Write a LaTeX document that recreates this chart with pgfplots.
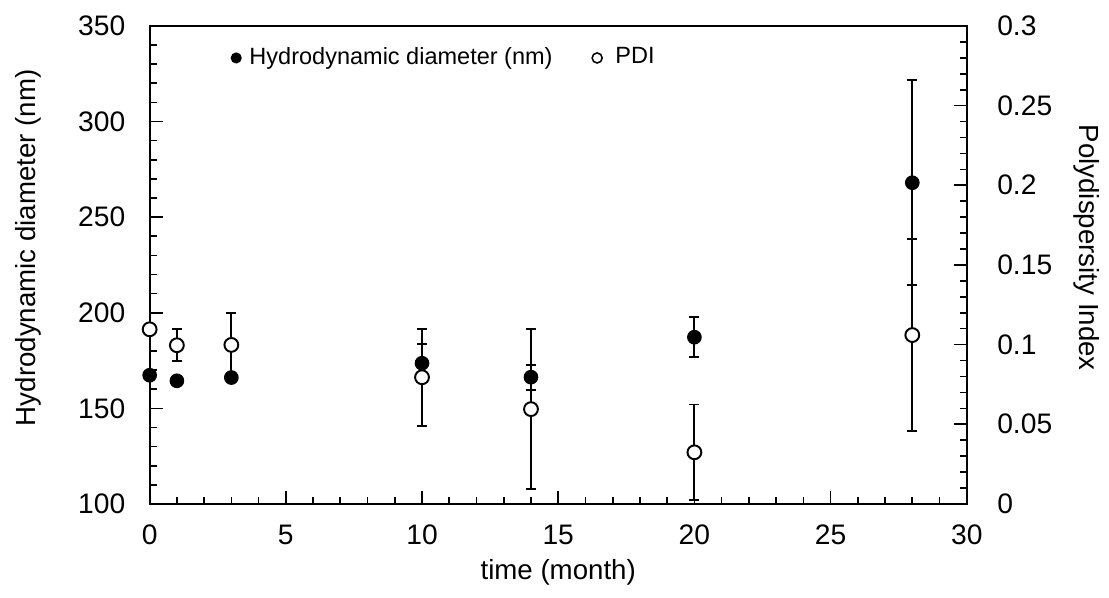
\documentclass[border=0pt]{standalone}
\usepackage{pgfplots}
\pgfplotsset{compat=1.18}
\usepackage{pgfplotstable}
\usepackage{fontspec}
\setmainfont{Liberation Sans}

\pgfplotstableread{
t d e
0 167.3 0
1 164.4 0
3 166.1 0
10 173.6 10
14 166.3 6.5
20 187.2 10.4
28 268.0 53.7
}\diam

\pgfplotstableread{
t p e
0 0.1096 0
1 0.0996 0.0100
3 0.0998 0.0203
10 0.0795 0.0304
14 0.0595 0.0500
20 0.0324 0.0300
28 0.1060 0.0605
}\pdi

\pgfplotsset{
  dotlegendA/.style={legend image code/.code={\fill[black] (0pt,0pt) circle (1.8pt); \path[draw=none, fill=none] (2.8pt,0pt) circle (0pt);}},
  dotlegendB/.style={legend image code/.code={\fill[black] (0pt,0pt) circle (1.9pt); \fill[white] (0pt,0pt) circle (1.25pt); \path[draw=none, fill=none] (4.6pt,0pt) circle (0pt);}},
  /pgf/number format/assume math mode=true,
  every axis/.append style={
    scale only axis, width=295.4pt, height=172.8pt,
    xmin=0, xmax=30,
    tick align=inside,
    major tick length=4.8pt, minor tick length=2.6pt,
    axis line style={line width=0.75pt, black},
    every tick/.style={black, line width=0.6pt},
    tick label style={font=\fontsize{10.2}{12}\selectfont},
    label style={font=\fontsize{10}{12}\selectfont},
    clip=false,
  },
}

\begin{document}
\begin{tikzpicture}
\begin{axis}[
  ymin=100, ymax=350,
  xtick distance=5, ytick distance=50,
  minor x tick num=4, minor y tick num=4,
  xtick pos=bottom, ytick pos=left,
  yticklabel style={xshift=-5.3pt},
  xticklabel style={yshift=-4pt},
  xlabel={time (month)},
  xlabel style={at={(axis description cs:0.5,-0.144)}, anchor=center},
  ylabel={Hydrodynamic diameter (nm)},
  ylabel style={at={(axis description cs:-0.1486,0.536)}, anchor=center},
  legend columns=2,
  legend cell align=left,
  legend style={draw=none, fill=none, inner sep=0pt,
    at={(axis description cs:0.0985,0.933)}, anchor=west,
    font=\fontsize{8.5}{10}\selectfont,
    /tikz/every even column/.append style={column sep=12pt}},
]
\addplot[forget plot, only marks, mark=*, mark size=2.45pt, black,
  error bars/.cd, y dir=both, y explicit,
  error mark options={rotate=90, black, mark size=1.8pt, line width=0.7pt},
  error bar style={line width=0.7pt, black}]
  table[x=t, y=d, y error=e] {\diam};
\addlegendimage{dotlegendA}
\addlegendentry{Hydrodynamic diameter (nm)}
\addlegendimage{dotlegendB}
\addlegendentry{PDI}
\end{axis}
\begin{axis}[
  ymin=0, ymax=0.3,
  axis y line*=right, axis x line=none,
  ytick distance=0.05, minor y tick num=4,
  scaled y ticks=false,
  yticklabel style={xshift=7.5pt, /pgf/number format/fixed, /pgf/number format/precision=2},
  ylabel={Polydispersity Index},
  ylabel style={at={(axis description cs:1.147,0.536)}, anchor=center, rotate=180},
]
\addplot[only marks, mark=*, mark size=2.5pt, black,
  mark options={fill=white, draw=black, line width=0.7pt},
  error bars/.cd, y dir=both, y explicit,
  error mark options={rotate=90, black, mark size=1.8pt, line width=0.7pt},
  error bar style={line width=0.7pt, black}]
  table[x=t, y=p, y error=e] {\pdi};
\end{axis}
\path ([shift={(-54.1pt,-33.9pt)}]current axis.south west) rectangle ([shift={(50.5pt,9.38pt)}]current axis.north east);
\end{tikzpicture}
\end{document}
